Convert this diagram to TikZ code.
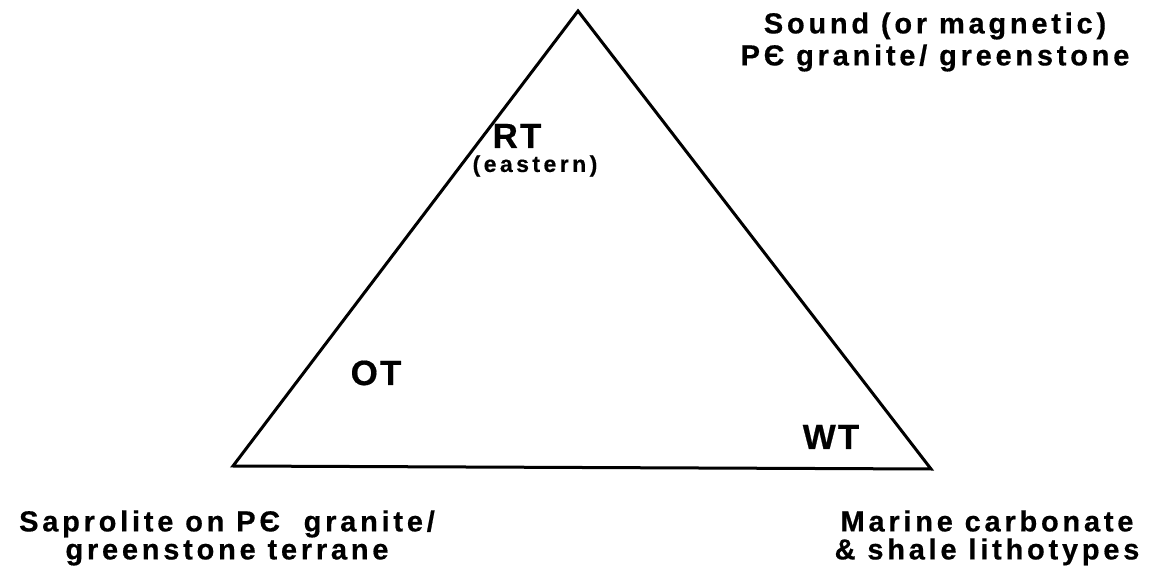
\documentclass[tikz,border=0pt]{standalone}
\usepackage{fontspec}
\setmainfont{Liberation Sans}[BoldFeatures={FakeBold=0.5}]
\newfontfamily\labfont{Liberation Sans}[LetterSpace=13, BoldFeatures={FakeBold=0.5}]
\newfontfamily\zonefont{Liberation Sans}[LetterSpace=6, BoldFeatures={FakeBold=0.5}]
\newfontfamily\subfont{Liberation Sans}[LetterSpace=15, BoldFeatures={FakeBold=0.5}]
\usepackage{tikz}
\tikzset{
  side/.style   = {line width=1.5pt, line join=miter},
  vlabel/.style = {align=center, inner sep=0pt, anchor=north,
                   font=\labfont\bfseries\fontsize{14.5}{16}\selectfont},
  vlow/.style   = {vlabel, font=\labfont\bfseries\fontsize{14.5}{14}\selectfont},
  zone/.style   = {inner sep=0pt, anchor=base, font=\zonefont\bfseries\fontsize{17.5}{20}\selectfont},
  sub/.style    = {inner sep=0pt, font=\subfont\bfseries\fontsize{11.5}{13}\selectfont},
}

\begin{document}
\begin{tikzpicture}[x=0.5pt, y=-0.5pt]
  \useasboundingbox (0,0) rectangle (1149,581);
  % triangle corners
  \coordinate (top)   at (578,11);
  \coordinate (left)  at (233,466);
  \coordinate (right) at (931,469);
  \draw[side] (top) -- (right) -- (left) -- cycle;
  % end members
  \node[vlabel] (sound) at (935,12) {Sound (or magnetic)\\PЄ granite/ greenstone};
  \node[vlow] (sapro) at (227,510) {Saprolite on PЄ\ \ granite/\\greenstone terrane};
  \node[vlow] (marine) at (987,510) {Marine carbonate\\\& shale lithotypes};
  % terrane zones
  \node[zone] (RT) at (517,148) {RT};
  \node[sub]  (east) at (535,166) {(eastern)};
  \node[zone] (OT) at (376,385) {OT};
  \node[zone] (WT) at (831,449) {WT};
\end{tikzpicture}
\end{document}
